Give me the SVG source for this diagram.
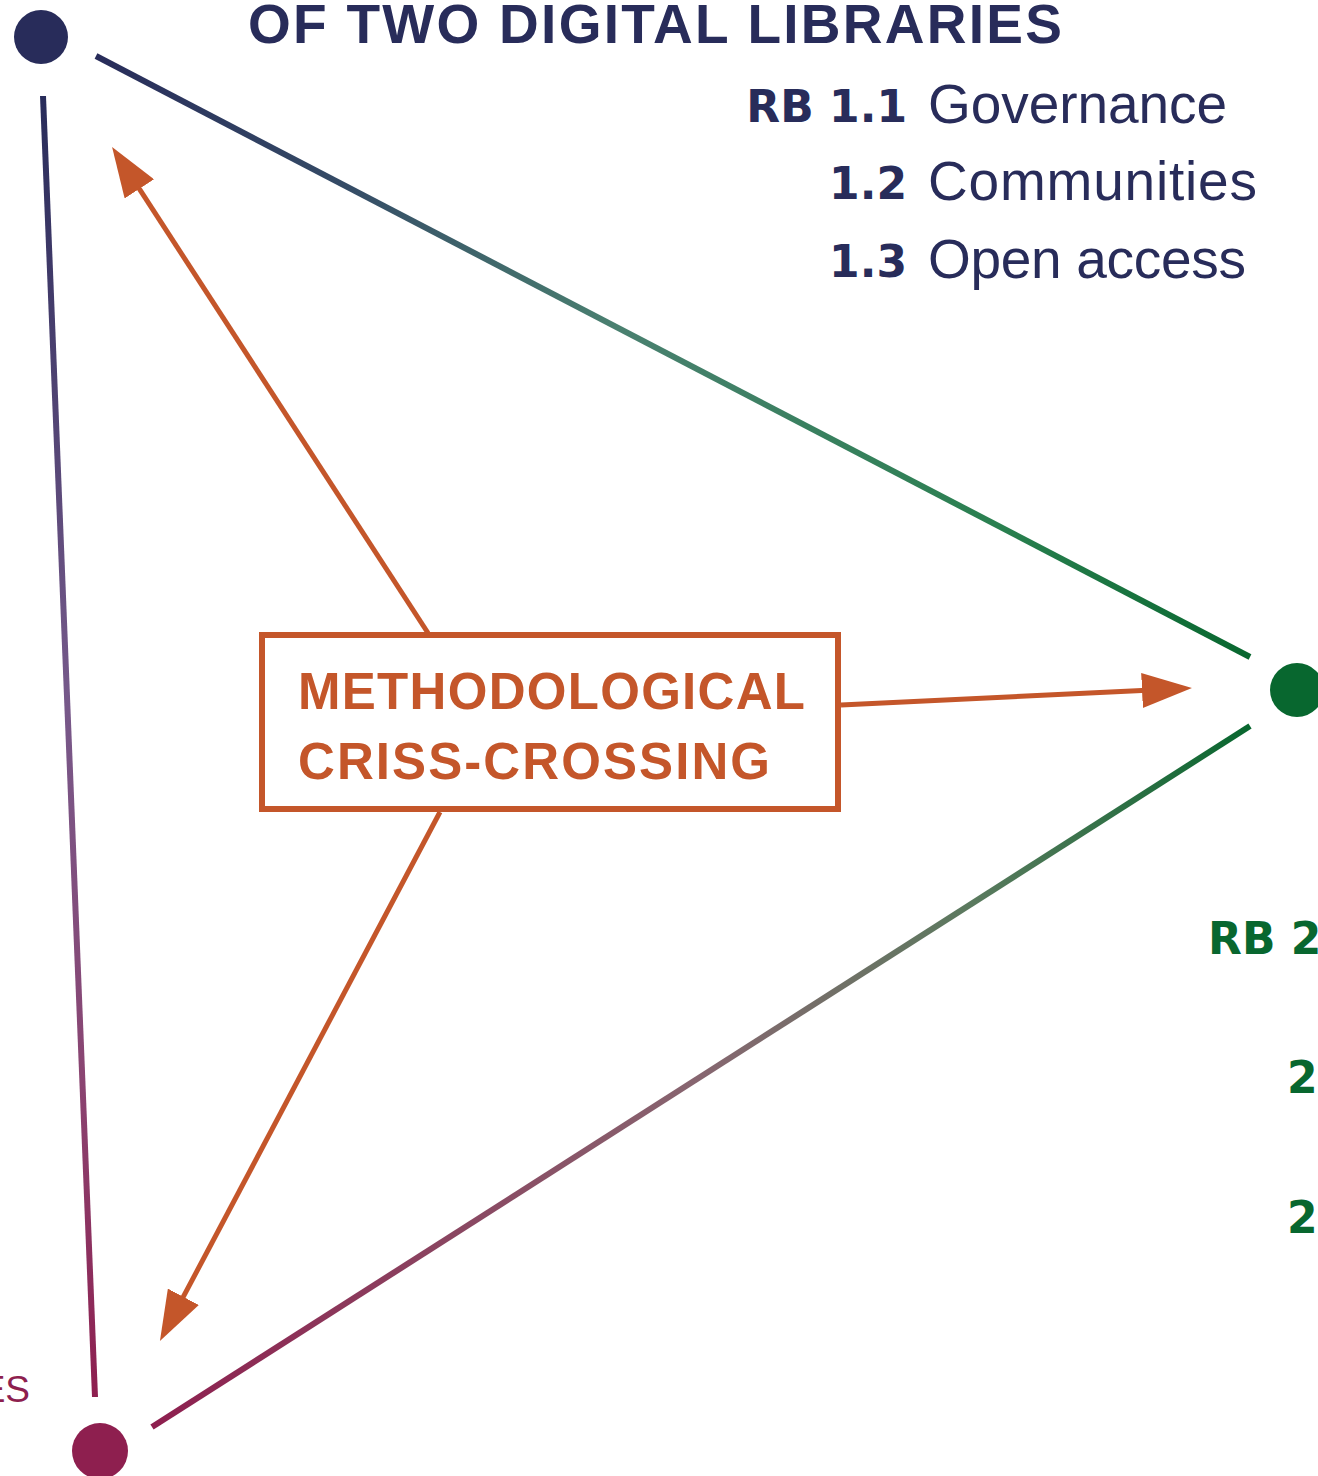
<svg xmlns="http://www.w3.org/2000/svg" width="1318" height="1476" viewBox="0 0 1318 1476">
<style>
.title{font-family:"Liberation Sans",Arial,sans-serif;font-weight:bold;font-size:55px;fill:#282C5A}
.num{font-family:"DejaVu Sans",sans-serif;font-weight:bold;font-size:44px}
.lbl{font-family:"Liberation Sans",Arial,sans-serif;font-size:55px;fill:#282C5A}
.box{fill:#fff;stroke:#C4562A;stroke-width:6}
.boxtxt{font-family:"Liberation Sans",Arial,sans-serif;font-weight:bold;font-size:51px;fill:#C4562A}
.arrow{stroke:#C4562A;stroke-width:5;fill:none}
.edge{stroke-width:6;fill:none}
</style>
<defs>
<marker id="ah" viewBox="0 0 10 7" markerWidth="10" markerHeight="7" refX="1" refY="3.5" orient="auto" markerUnits="strokeWidth">
<path d="M0,0 L10,3.5 L0,7 Z" fill="#C4562A"/>
</marker>
<linearGradient id="gTop" gradientUnits="userSpaceOnUse" x1="96" y1="56" x2="1250" y2="657">
<stop offset="0" stop-color="#282C5A"/>
<stop offset="0.22" stop-color="#354C66"/>
<stop offset="0.45" stop-color="#4A8070"/>
<stop offset="0.78" stop-color="#2A8050"/>
<stop offset="1" stop-color="#08672F"/>
</linearGradient>
<linearGradient id="gLeft" gradientUnits="userSpaceOnUse" x1="43" y1="96" x2="95" y2="1397">
<stop offset="0" stop-color="#282C5A"/>
<stop offset="0.46" stop-color="#76598A"/>
<stop offset="0.75" stop-color="#8A4572"/>
<stop offset="1" stop-color="#8E1F4F"/>
</linearGradient>
<linearGradient id="gBot" gradientUnits="userSpaceOnUse" x1="152" y1="1427" x2="1250" y2="726">
<stop offset="0" stop-color="#8E1F4F"/>
<stop offset="0.5" stop-color="#876670"/>
<stop offset="0.75" stop-color="#5A7A5E"/>
<stop offset="1" stop-color="#08672F"/>
</linearGradient>
</defs>

<g id="connectors">
<line class="edge" x1="96" y1="56" x2="1250" y2="657" stroke="url(#gTop)"/>
<line class="edge" x1="43" y1="96" x2="95" y2="1397" stroke="url(#gLeft)"/>
<line class="edge" x1="152" y1="1427" x2="1250" y2="726" stroke="url(#gBot)"/>
<line class="arrow" x1="428" y1="633" x2="136.6" y2="184.7" marker-end="url(#ah)"/>
<line class="arrow" x1="841" y1="705" x2="1147" y2="690.2" marker-end="url(#ah)"/>
<line class="arrow" x1="440" y1="812" x2="181" y2="1301.2" marker-end="url(#ah)"/>
</g>

<g id="title">
<text class="title" x="248" y="43" textLength="814" lengthAdjust="spacing">OF TWO DIGITAL LIBRARIES</text>
</g>

<g id="node-rb1">
<circle cx="41" cy="37" r="27" fill="#282C5A"/>
<text class="num" x="907" y="122" text-anchor="end" fill="#282C5A">RB 1.1</text>
<text class="lbl" x="928" y="123" textLength="299" lengthAdjust="spacing">Governance</text>
<text class="num" x="907" y="199" text-anchor="end" fill="#282C5A">1.2</text>
<text class="lbl" x="928" y="200" textLength="329" lengthAdjust="spacing">Communities</text>
<text class="num" x="907" y="277" text-anchor="end" fill="#282C5A">1.3</text>
<text class="lbl" x="928" y="278" textLength="318" lengthAdjust="spacing">Open access</text>
</g>

<g id="node-rb2">
<circle cx="1297" cy="690" r="27" fill="#08672F"/>
<text class="num" x="1208" y="954" fill="#08672F">RB 2</text>
<text class="num" x="1287" y="1093" fill="#08672F">2</text>
<text class="num" x="1287" y="1233" fill="#08672F">2</text>
</g>

<g id="node-rb3">
<circle cx="100" cy="1451" r="28" fill="#8E1F4F"/>
<text x="30" y="1402" text-anchor="end" font-family="Liberation Sans, Arial, sans-serif" font-size="37" fill="#8E1F4F">ES</text>
</g>

<g id="node-method">
<rect class="box" x="262" y="635" width="576" height="174"/>
<text class="boxtxt" x="298" y="709" textLength="507" lengthAdjust="spacing">METHODOLOGICAL</text>
<text class="boxtxt" x="298" y="779" textLength="472" lengthAdjust="spacing">CRISS-CROSSING</text>
</g>
</svg>
